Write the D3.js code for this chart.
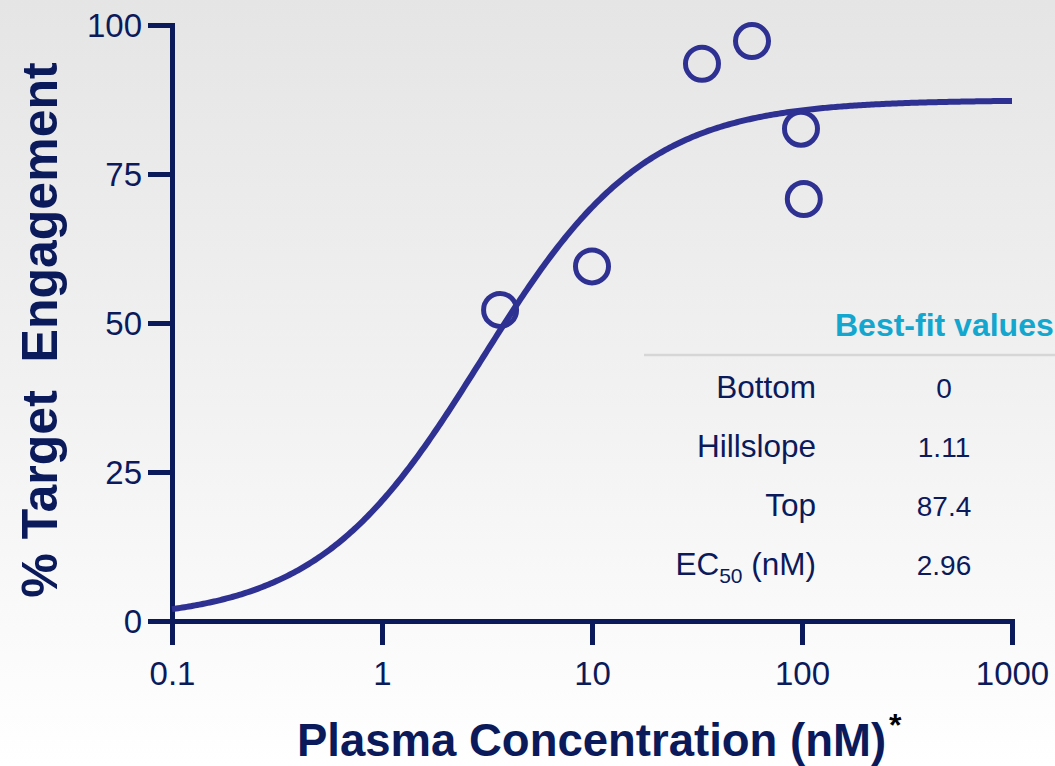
<!DOCTYPE html>
<html>
<head>
<meta charset="utf-8">
<script src="https://cdn.jsdelivr.net/npm/d3@7"></script>
<style>
  html, body { margin: 0; padding: 0; background: #fff; }
  svg { display: block; font-family: "Liberation Sans", Arial, sans-serif; }
</style>
</head>
<body>
<svg id="chart" width="1055" height="766"></svg>
<script>
// ---- data ----
const concentrations = [3.65, 10, 33.4, 57.8, 98.9, 102];   // nM
const engagement     = [52.2, 59.5, 93.5, 97.3, 82.6, 70.8]; // %
const xTicks = [0.1, 1, 10, 100, 1000];
const xTickLabels = ["0.1", "1", "10", "100", "1000"];
const yTicks = [0, 25, 50, 75, 100];
const fitNames  = ["Bottom", "Hillslope", "Top", "EC50"];
const fitValues = [0, 1.11, 87.4, 2.96];
const fitLabels = ["0", "1.11", "87.4", "2.96"];

const navy = "#0b1a5b";
const indigo = "#2e3192";

const svg = d3.select("#chart");

// background gradient
const defs = svg.append("defs");
const grad = defs.append("linearGradient").attr("id", "bg").attr("x1", 0).attr("y1", 0).attr("x2", 0).attr("y2", 1);
grad.append("stop").attr("offset", "0%").attr("stop-color", "#e5e5e5");
grad.append("stop").attr("offset", "50%").attr("stop-color", "#f1f1f1");
grad.append("stop").attr("offset", "100%").attr("stop-color", "#ffffff");
svg.append("rect").attr("width", 1055).attr("height", 766).attr("fill", "url(#bg)");

const x = d3.scaleLog().domain([0.1, 1000]).range([172, 1012]);
const y = d3.scaleLinear().domain([0, 100]).range([621, 25]);

// axes
const yAxis = d3.axisLeft(y).tickValues(yTicks).tickSize(24).tickSizeOuter(0).tickPadding(6)
  .tickFormat(d3.format("d"));
const gy = svg.append("g").attr("transform", `translate(${x(0.1)},0)`).call(yAxis);

const xAxis = d3.axisBottom(x).tickValues(xTicks).tickSize(24).tickSizeOuter(0).tickPadding(18)
  .tickFormat((d, i) => xTickLabels[i]);
const gx = svg.append("g").attr("transform", `translate(0,${y(0)})`).call(xAxis);

[gx, gy].forEach(g => {
  g.select(".domain").attr("stroke", navy).attr("stroke-width", 5).attr("stroke-linecap", "square");
  g.selectAll(".tick line").attr("stroke", navy).attr("stroke-width", 5);
  g.selectAll(".tick text").attr("fill", navy).attr("font-size", 33)
    .attr("font-family", "'Liberation Sans', Arial, sans-serif");
});
gy.selectAll(".tick text").attr("dy", "0.36em");
gx.selectAll(".tick text").attr("dy", "0.68em");

// fitted curve from best-fit parameters
const [fitBottom, fitHill, fitTop, fitEC50] = fitValues;
const hillFn = c => fitBottom + (fitTop - fitBottom) / (1 + Math.pow(fitEC50 / c, fitHill));
const curveX = d3.range(0, 401).map(i => Math.pow(10, -1 + 4 * i / 400));
const line = d3.line().x(d => x(d)).y(d => y(hillFn(d))).curve(d3.curveLinear);

// points
svg.append("g").selectAll("circle").data(concentrations).join("circle")
  .attr("cx", d => x(d))
  .attr("cy", (d, i) => y(engagement[i]))
  .attr("r", 16.5)
  .attr("fill", "none")
  .attr("stroke", indigo)
  .attr("stroke-width", 5);

svg.append("path").datum(curveX).attr("d", line)
  .attr("fill", "none").attr("stroke", indigo).attr("stroke-width", 6);

// axis titles
svg.append("text")
  .attr("transform", "translate(57,330) rotate(-90)")
  .attr("text-anchor", "middle")
  .attr("font-size", 50).attr("font-weight", "bold").attr("fill", navy)
  .style("white-space", "pre")
  .text("% Target  Engagement");

const xt = svg.append("text")
  .attr("x", 297).attr("y", 756)
  .attr("font-size", 45.5).attr("font-weight", "bold").attr("fill", navy);
xt.append("tspan").text("Plasma Concentration (nM)");
xt.append("tspan").attr("dx", 3).attr("dy", -20).attr("font-size", 32).attr("fill", "#000").text("*");

// best-fit table
svg.append("text").attr("x", 835).attr("y", 336)
  .attr("font-size", 32).attr("font-weight", "bold").attr("fill", "#13a6cf")
  .text("Best-fit values");
svg.append("line").attr("x1", 644).attr("x2", 1055).attr("y1", 355).attr("y2", 355)
  .attr("stroke", "#d6d6d6").attr("stroke-width", 2.5);

const rowY = [398, 457, 516, 575];
fitNames.forEach((name, i) => {
  const t = svg.append("text").attr("x", 816).attr("y", rowY[i])
    .attr("text-anchor", "end").attr("font-size", 31.5).attr("fill", navy);
  if (name === "EC50") {
    t.append("tspan").text("EC");
    t.append("tspan").attr("font-size", 21).attr("dy", 8).text("50");
    t.append("tspan").attr("dy", -8).text(" (nM)");
  } else {
    t.text(name);
  }
  svg.append("text").attr("x", 944).attr("y", rowY[i])
    .attr("text-anchor", "middle").attr("font-size", 28).attr("fill", navy)
    .text(fitLabels[i]);
});
</script>
</body>
</html>
